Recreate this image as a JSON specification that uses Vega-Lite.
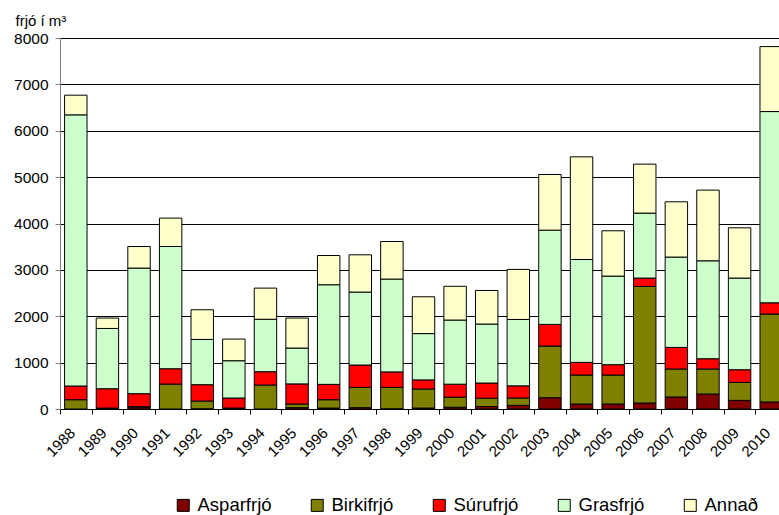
{
  "$schema": "https://vega.github.io/schema/vega-lite/v6.json",
  "autosize": {"type": "none"},
  "padding": {"left": 60, "top": 38, "right": 0, "bottom": 106},
  "width": 719,
  "height": 371,
  "config": {
    "font": "Liberation Sans",
    "view": {"stroke": null},
    "background": "white"
  },
  "data": {
    "values": [
      {"year": "1988", "Asparfrjó": 0, "Birkifrjó": 200, "Súrufrjó": 296, "Grasfrjó": 5847, "Annað": 424},
      {"year": "1989", "Asparfrjó": 8, "Birkifrjó": 12, "Súrufrjó": 417, "Grasfrjó": 1300, "Annað": 224},
      {"year": "1990", "Asparfrjó": 40, "Birkifrjó": 10, "Súrufrjó": 280, "Grasfrjó": 2709, "Annað": 465},
      {"year": "1991", "Asparfrjó": 0, "Birkifrjó": 538, "Súrufrjó": 330, "Grasfrjó": 2636, "Annað": 612},
      {"year": "1992", "Asparfrjó": 5, "Birkifrjó": 167, "Súrufrjó": 352, "Grasfrjó": 976, "Annað": 640},
      {"year": "1993", "Asparfrjó": 8, "Birkifrjó": 12, "Súrufrjó": 217, "Grasfrjó": 804, "Annað": 467},
      {"year": "1994", "Asparfrjó": 0, "Birkifrjó": 517, "Súrufrjó": 287, "Grasfrjó": 1131, "Annað": 672},
      {"year": "1995", "Asparfrjó": 28, "Birkifrjó": 79, "Súrufrjó": 434, "Grasfrjó": 773, "Annað": 647},
      {"year": "1996", "Asparfrjó": 20, "Birkifrjó": 180, "Súrufrjó": 331, "Grasfrjó": 2148, "Annað": 631},
      {"year": "1997", "Asparfrjó": 28, "Birkifrjó": 438, "Súrufrjó": 482, "Grasfrjó": 1573, "Annað": 804},
      {"year": "1998", "Asparfrjó": 5, "Birkifrjó": 461, "Súrufrjó": 334, "Grasfrjó": 2002, "Annað": 810},
      {"year": "1999", "Asparfrjó": 20, "Birkifrjó": 411, "Súrufrjó": 197, "Grasfrjó": 998, "Annað": 794},
      {"year": "2000", "Asparfrjó": 38, "Birkifrjó": 217, "Súrufrjó": 280, "Grasfrjó": 1383, "Annað": 728},
      {"year": "2001", "Asparfrjó": 53, "Birkifrjó": 180, "Súrufrjó": 327, "Grasfrjó": 1272, "Annað": 724},
      {"year": "2002", "Asparfrjó": 78, "Birkifrjó": 159, "Súrufrjó": 262, "Grasfrjó": 1432, "Annað": 1079},
      {"year": "2003", "Asparfrjó": 243, "Birkifrjó": 1114, "Súrufrjó": 467, "Grasfrjó": 2033, "Annað": 1200},
      {"year": "2004", "Asparfrjó": 107, "Birkifrjó": 626, "Súrufrjó": 272, "Grasfrjó": 2219, "Annað": 2213},
      {"year": "2005", "Asparfrjó": 108, "Birkifrjó": 625, "Súrufrjó": 222, "Grasfrjó": 1911, "Annað": 977},
      {"year": "2006", "Asparfrjó": 129, "Birkifrjó": 2514, "Súrufrjó": 180, "Grasfrjó": 1401, "Annað": 1056},
      {"year": "2007", "Asparfrjó": 259, "Birkifrjó": 603, "Súrufrjó": 466, "Grasfrjó": 1948, "Annað": 1192},
      {"year": "2008", "Asparfrjó": 323, "Birkifrjó": 539, "Súrufrjó": 222, "Grasfrjó": 2112, "Annað": 1524},
      {"year": "2009", "Asparfrjó": 186, "Birkifrjó": 388, "Súrufrjó": 273, "Grasfrjó": 1976, "Annað": 1084},
      {"year": "2010", "Asparfrjó": 151, "Birkifrjó": 1896, "Súrufrjó": 243, "Grasfrjó": 4124, "Annað": 1401}
    ]
  },
  "transform": [
    {"fold": ["Asparfrjó", "Birkifrjó", "Súrufrjó", "Grasfrjó", "Annað"], "as": ["tegund", "magn"]},
    {"window": [{"op": "row_number", "as": "rod"}], "groupby": ["year"]}
  ],
  "mark": {"type": "bar", "stroke": "black", "strokeWidth": 1},
  "encoding": {
    "x": {
      "field": "year",
      "type": "ordinal",
      "scale": {"range": [0, 727], "paddingInner": 0.29, "paddingOuter": 0.145},
      "axis": {
        "title": null,
        "labelAngle": -45,
        "labelAlign": "right",
        "labelBaseline": "middle",
        "labelFontSize": 15,
        "labelColor": "black",
        "labelPadding": 16,
        "tickOffset": -15.8,
        "labelOffset": 12,
        "tickSize": 5,
        "tickColor": "black",
        "domainColor": "black",
        "grid": false
      }
    },
    "y": {
      "field": "magn",
      "type": "quantitative",
      "stack": "zero",
      "scale": {"domain": [0, 8000], "nice": false},
      "axis": {
        "values": [0, 1000, 2000, 3000, 4000, 5000, 6000, 7000, 8000],
        "format": "d",
        "title": "frjó í m³",
        "titleAngle": 0,
        "titleAlign": "left",
        "titleBaseline": "alphabetic",
        "titleX": -45,
        "titleY": -13,
        "titleFontSize": 15,
        "titleFontWeight": "normal",
        "titleColor": "black",
        "labelFontSize": 15.5,
        "labelColor": "black",
        "labelPadding": 7,
        "tickSize": 5,
        "tickColor": "#808080",
        "domainColor": "#808080",
        "grid": true,
        "gridColor": "black",
        "gridWidth": 1
      }
    },
    "order": {"field": "rod", "type": "quantitative", "sort": "ascending"},
    "color": {
      "field": "tegund",
      "type": "nominal",
      "sort": ["Asparfrjó", "Birkifrjó", "Súrufrjó", "Grasfrjó", "Annað"],
      "scale": {
        "domain": ["Asparfrjó", "Birkifrjó", "Súrufrjó", "Grasfrjó", "Annað"],
        "range": ["#800000", "#808000", "#FF0000", "#CCFFCC", "#FFFFCC"]
      },
      "legend": {
        "title": null,
        "orient": "none",
        "direction": "horizontal",
        "columns": 5,
        "legendX": 114,
        "legendY": 458,
        "symbolType": "square",
        "symbolSize": 144,
        "symbolStrokeColor": "black",
        "symbolStrokeWidth": 1,
        "symbolOpacity": 1,
        "labelFontSize": 18.5,
        "labelColor": "black",
        "labelOffset": 5,
        "columnPadding": 36
      }
    }
  }
}
